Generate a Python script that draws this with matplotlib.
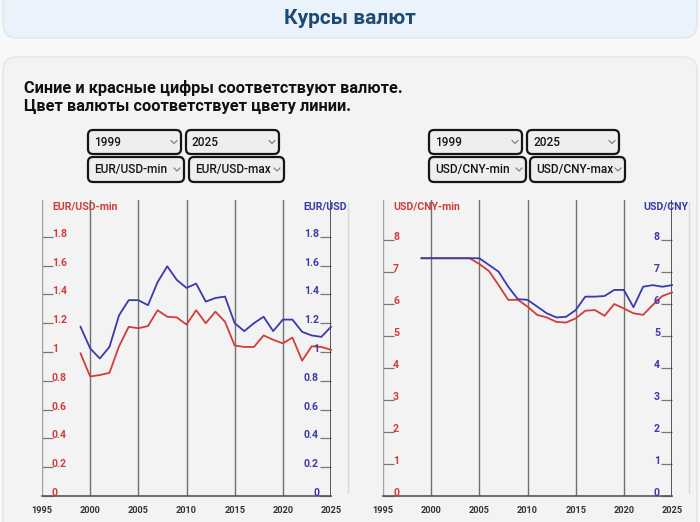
import matplotlib.pyplot as plt
from matplotlib.patches import FancyBboxPatch

plt.rcParams['font.family'] = ['Roboto', 'DejaVu Sans']

years = list(range(1999, 2026))

eur_min = [0.99, 0.83, 0.84, 0.855, 1.04, 1.175, 1.165, 1.18, 1.29, 1.245, 1.24, 1.19, 1.29, 1.20,
           1.28, 1.21, 1.045, 1.035, 1.035, 1.115, 1.085, 1.06, 1.10, 0.94, 1.04, 1.035, 1.015]
eur_max = [1.175, 1.025, 0.955, 1.035, 1.255, 1.36, 1.36, 1.325, 1.485, 1.595, 1.50, 1.445, 1.475, 1.35,
           1.375, 1.385, 1.20, 1.145, 1.20, 1.245, 1.145, 1.225, 1.225, 1.14, 1.115, 1.105, 1.175]
cny_min = [7.43, 7.43, 7.43, 7.43, 7.43, 7.43, 7.25, 7.03, 6.59, 6.13, 6.13, 5.92, 5.66, 5.58,
           5.44, 5.42, 5.55, 5.79, 5.81, 5.63, 6.00, 5.86, 5.71, 5.66, 5.97, 6.25, 6.36]
cny_max = [7.43, 7.43, 7.43, 7.43, 7.43, 7.43, 7.43, 7.22, 7.01, 6.54, 6.15, 6.13, 5.92, 5.71,
           5.58, 5.60, 5.81, 6.23, 6.23, 6.25, 6.44, 6.44, 5.90, 6.54, 6.59, 6.54, 6.59]

eur_ticks = [0, 0.2, 0.4, 0.6, 0.8, 1, 1.2, 1.4, 1.6, 1.8]
eur_labels = ['0', '0.2', '0.4', '0.6', '0.8', '1', '1.2', '1.4', '1.6', '1.8']
cny_ticks = [0, 1, 2, 3, 4, 5, 6, 7, 8]
cny_labels = ['0', '1', '2', '3', '4', '5', '6', '7', '8']
year_ticks = [1995, 2000, 2005, 2010, 2015, 2020, 2025]

RED = '#d23c3c'
BLUE = '#3a3aae'
W, H = 700, 522

fig = plt.figure(figsize=(W / 100, H / 100), dpi=100, facecolor='#f8f8f8')
bg = fig.add_axes([0, 0, 1, 1])
bg.set_xlim(0, W)
bg.set_ylim(H, 0)
bg.axis('off')

# header and panel
bg.add_patch(FancyBboxPatch((3, -12), 694, 50, boxstyle='round,pad=0,rounding_size=14',
                            fc='#eaf3fb', ec='#dbe7f2', lw=1))
bg.text(350, 19, 'Курсы валют', ha='center', va='center', fontsize=15,
        fontweight='bold', color='#1d4a72')
bg.add_patch(FancyBboxPatch((3, 57), 694, 500, boxstyle='round,pad=0,rounding_size=14',
                            fc='#f3f3f3', ec='#e4e4e4', lw=1))
bg.text(24, 88, 'Синие и красные цифры соответствуют валюте.', ha='left', va='center',
        fontsize=11.8, fontweight='bold', color='#111111')
bg.text(24, 106, 'Цвет валюты соответствует цвету линии.', ha='left', va='center',
        fontsize=11.8, fontweight='bold', color='#111111')

# dropdowns
boxes = [
    (88, 130, 181, 154, '1999'), (186, 130, 279, 154, '2025'),
    (88, 157, 184, 182, 'EUR/USD-min'), (189, 157, 284, 182, 'EUR/USD-max'),
    (429, 130, 522, 154, '1999'), (527, 130, 619, 154, '2025'),
    (429, 157, 526, 182, 'USD/CNY-min'), (530, 157, 625, 182, 'USD/CNY-max'),
]
for x0, y0, x1, y1, txt in boxes:
    bg.add_patch(FancyBboxPatch((x0, y0), x1 - x0, y1 - y0,
                                boxstyle='round,pad=0,rounding_size=5',
                                fc='#eeeeee', ec='#151515', lw=1.6))
    cy = (y0 + y1) / 2
    bg.text(x0 + 6, cy + 0.5, txt, ha='left', va='center', fontsize=8.6,
            fontweight='medium', color='#151515')
    cx = x1 - 7
    bg.plot([cx - 3, cx, cx + 3], [cy - 1.5, cy + 1.5, cy - 1.5], color='#777777', lw=0.8)


def chart(x0, x1, y0, y1, ymax, lo, hi, ticks, labels, name):
    ax = fig.add_axes([x0 / W, 1 - y1 / H, (x1 - x0) / W, (y1 - y0) / H])
    ax.set_facecolor('none')
    ax.set_xlim(1995, 2025)
    ax.set_ylim(0, ymax)
    for s in ['top', 'right', 'left']:
        ax.spines[s].set_visible(False)
    ax.spines['bottom'].set_color('#555555')
    ax.spines['bottom'].set_linewidth(1.2)
    ax.axvline(1995, color='#a0a0a0', lw=1)
    for yr in year_ticks[1:-1]:
        ax.axvline(yr, color='#707070', lw=1)
    ax.axvline(2025, color='#3a3a3a', lw=1.2)

    ax.set_xticks(year_ticks)
    ax.set_xticklabels([str(y) for y in year_ticks], fontsize=6.6, fontweight='bold',
                       color='#333333')
    ax.tick_params(axis='x', length=0, pad=7)
    ax.set_yticks(ticks)
    ax.tick_params(axis='y', direction='in', length=8, width=0.9, color='#777777',
                   left=True, right=True, labelleft=False)

    tr = ax.get_yaxis_transform()
    for v, lab in zip(ticks, labels):
        ax.text(10 / 289, v, lab, transform=tr, ha='left', va='baseline', fontsize=7.6,
                fontweight='bold', color=RED)
        ax.text(1 - 12 / 289, v, lab, transform=tr, ha='right', va='baseline', fontsize=7.6,
                fontweight='bold', color=BLUE)

    ax.plot(years, lo, color=RED, lw=1.3, clip_on=False)
    ax.plot(years, hi, color=BLUE, lw=1.3, clip_on=False)

    bg.text(x0 + 10, 206, name + '-min', ha='left', va='center', fontsize=7.6,
            fontweight='bold', color=RED)
    edge = x1 + 17
    bg.text(edge - 1, 206, name, ha='right', va='center', fontsize=7.6,
            fontweight='bold', color=BLUE)
    bg.plot([edge, edge], [203, 492], color='#d8d8d8', lw=1)
    return ax


chart(42, 331, 200, 496, 296 / 144, eur_min, eur_max, eur_ticks, eur_labels, 'EUR/USD')
chart(383, 672, 200, 496, 296 / 32, cny_min, cny_max, cny_ticks, cny_labels, 'USD/CNY')

fig.savefig('out.png', dpi=100, facecolor=fig.get_facecolor())
